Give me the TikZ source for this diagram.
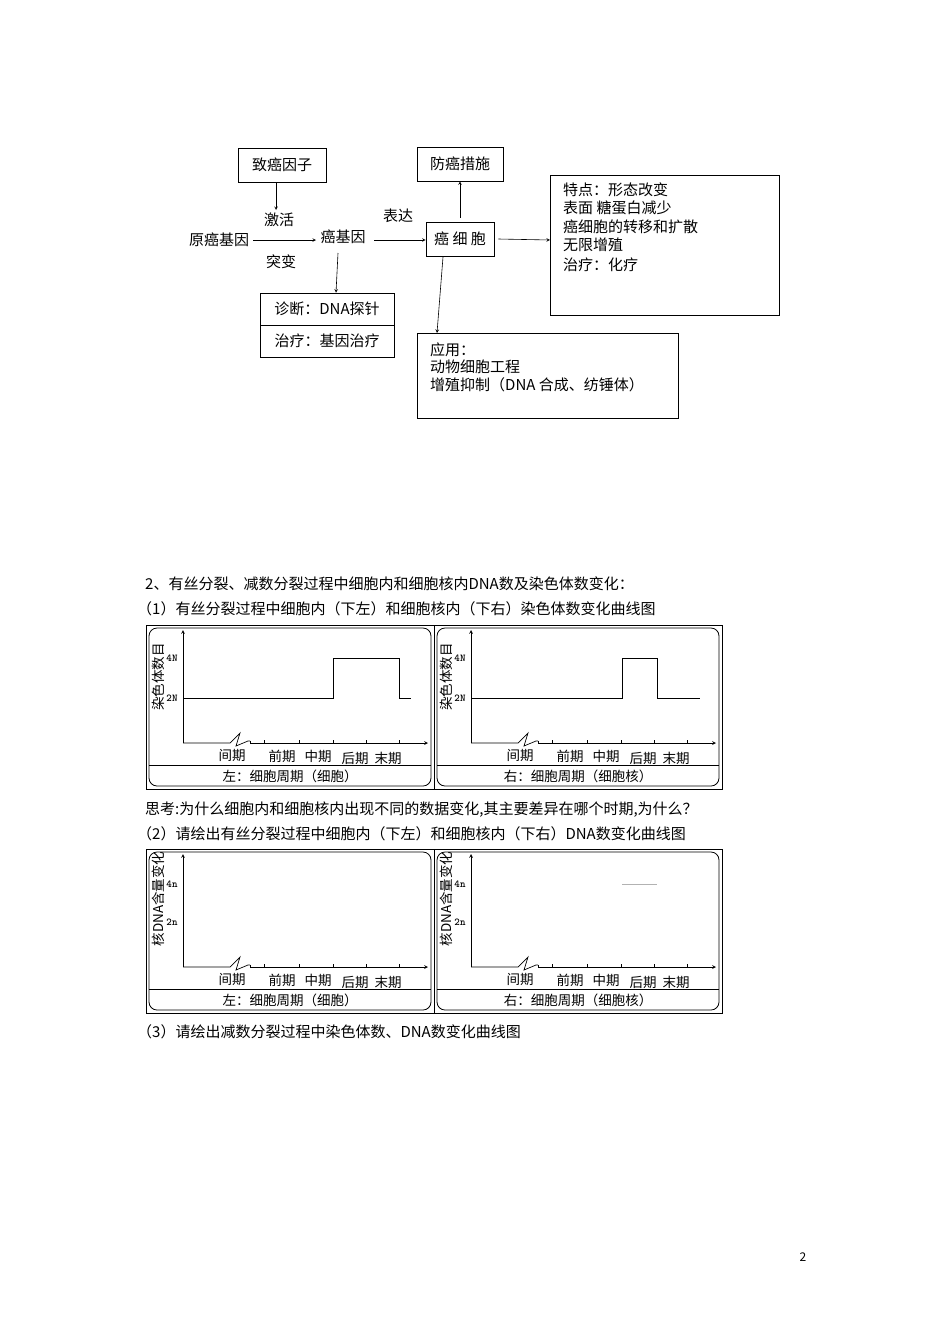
\documentclass[tikz,border=0pt]{standalone}
\usepackage{fontspec}
\setmainfont{Liberation Serif}
\newfontfamily\cjk{Noto Sans CJK SC}
\begin{document}
\begin{tikzpicture}[x=1pt,y=-1pt,font=\cjk\fontsize{15}{17}\selectfont,
  bx/.style={draw,line width=0.6pt},
  arr/.style={-stealth,line width=0.6pt},
  t/.style={inner sep=0pt,anchor=west},
  pan/.style={draw,rounded corners=8pt,line width=0.8pt},
  sm/.style={font=\cjk\fontsize{13.5}{15}\selectfont,inner sep=0pt},
  nm/.style={font=\fontsize{10.5}{12}\selectfont\ttfamily\bfseries,inner sep=0pt}]
\useasboundingbox (0,0) rectangle (950,1344);
% top flow
\node[bx,minimum width=88pt,minimum height=34pt] (zy) at (282,165) {致癌因子};
\node[bx,minimum width=86pt,minimum height=34pt] (fa) at (460,164) {防癌措施};
\node[bx,minimum width=68pt,minimum height=34pt] (ax) at (460,239) {癌 细 胞};
\draw[bx] (550,175) rectangle (779,315);
\coordinate (rb) at (550,240);
\node[t] at (563,190) {特点：形态改变};
\node[t] at (563,208) {表面 糖蛋白减少};
\node[t] at (563,227) {癌细胞的转移和扩散};
\node[t] at (563,245) {无限增殖};
\node[t] at (563,265) {治疗：化疗};
\node (jh) at (279,220) {激活};
\node (yg) at (219,240) {原癌基因};
\node (tb) at (281,262) {突变};
\node (ag) at (343,237) {癌基因};
\node (bd) at (398,216) {表达};
\node[bx,minimum width=134pt,minimum height=32pt] (zd) at (327,309) {诊断：DNA探针};
\node[bx,minimum width=134pt,minimum height=32pt] (zl) at (327,341) {治疗：基因治疗};
\draw[bx] (417,333) rectangle (678,418);
\coordinate (yb) at (437,333);
\node[t] at (430,350) {应用：};
\node[t] at (430,367) {动物细胞工程};
\node[t] at (430,385) {增殖抑制（DNA 合成、纺锤体）};
\draw[arr] (zy.south -| 276,0) -- (276,210);
\draw[arr] (253,240) -- (316,240);
\draw[arr] (374,240) -- (ax.west |- 0,240);
\draw[arr] (ax.north) ++(0,-4) -- (fa.south);
\draw[arr] (ax.east) ++(4,0) -- (rb);
\draw[arr] (338,253) -- (zd.north -| 336,0);
\draw[arr] (443,257) -- (yb);
% texts
\node[t] at (145,584) {2、有丝分裂、减数分裂过程中细胞内和细胞核内DNA数及染色体数变化：};
\node[t] at (137,609) {（1）有丝分裂过程中细胞内（下左）和细胞核内（下右）染色体数变化曲线图};
\node[t] at (145,810) {思考:为什么细胞内和细胞核内出现不同的数据变化,其主要差异在哪个时期,为什么？};
\node[t] at (137,834) {（2）请绘出有丝分裂过程中细胞内（下左）和细胞核内（下右）DNA数变化曲线图};
\node[t] at (137,1032) {（3）请绘出减数分裂过程中染色体数、DNA数变化曲线图};
\node (pg) at (803,1257) {\fontsize{12}{14}\selectfont 2};
% panels
\foreach \dx/\dy/\cap/\k in {0/0/左：细胞周期（细胞）/1,288/0/右：细胞周期（细胞核）/2,0/224/左：细胞周期（细胞）/3,288/224/右：细胞周期（细胞核）/4}{
 \begin{scope}[shift={(\dx,\dy)}]
 \draw[line width=0.8pt] (146,625) rectangle (434,789);
 \draw[pan] (149,628) rectangle (431,786);
 \draw[line width=0.6pt] (149,765) -- (431,765);
 \node[sm] (c\k) at (290,776) {\cap};
 \draw[-stealth,line width=0.7pt] (183,743) -- (183,630);
 \draw[line width=0.7pt] (183,743) -- (230,743) -- (240,733) -- (236,746) -- (248,741) -- (250,741);
 \draw[-stealth,line width=0.7pt] (250,741) -- (250,743) -- (428,743);
 \foreach \xx in {264,299,333,366,399} \draw (\xx,743) -- (\xx,740);
 \node[sm] at (232,755) {间期};
 \node[sm] at (282,756) {前期};
 \node[sm] at (318,756) {中期};
 \node[sm] at (355,758) {后期};
 \node[sm] at (388,758) {末期};
 \end{scope}}
% chart 1 content
\foreach \dx in {0,288}{
 \begin{scope}[shift={(\dx,0)}]
 \node[nm] at (172,658) {4N};
 \node[nm] at (172,698) {2N};
 \node[sm,rotate=90] at (158,677) {染色体数目};
 \end{scope}}
\draw[line width=0.7pt] (183,698) -- (333,698) -- (333,658) -- (399,658) -- (399,698) -- (411,698);
\draw[line width=0.7pt] (471,698) -- (622,698) -- (622,658) -- (657,658) -- (657,698) -- (700,698);
\foreach \dx in {0,288}{
 \begin{scope}[shift={(\dx,224)}]
 \node[nm] at (172,660) {4n};
 \node[nm] at (172,698) {2n};
 \node[sm,rotate=90] at (158,675) {核DNA含量变化};
 \end{scope}}
\draw[gray!60,line width=0.6pt] (622,884) -- (657,884);
\end{tikzpicture}
\end{document}
